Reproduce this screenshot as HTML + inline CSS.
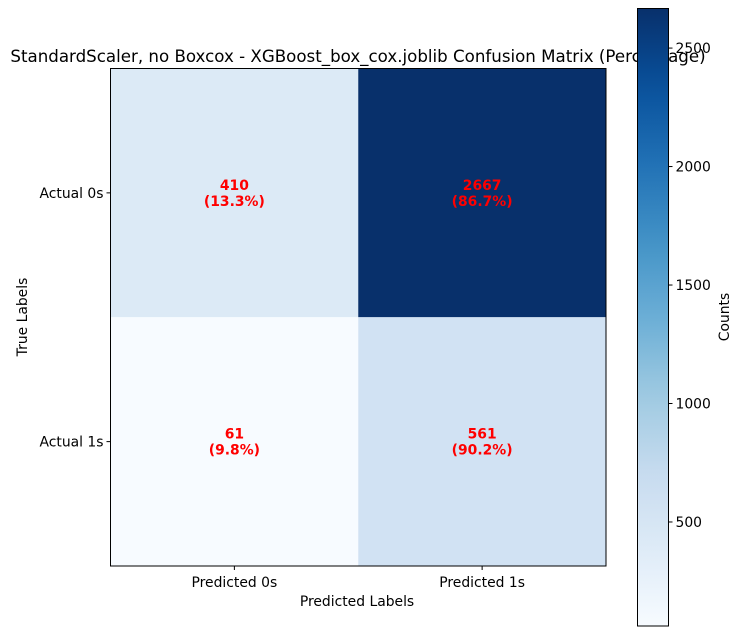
<!DOCTYPE html>
<html><head><meta charset="utf-8"><style>
body{margin:0;background:#fff;}
svg{display:block;font-family:"DejaVu Sans","Liberation Sans",sans-serif;}
</style></head><body>
<svg id="chart" width="742" height="636" viewBox="0 0 742 636">
<defs><linearGradient id="cbgrad" x1="0" y1="1" x2="0" y2="0"></linearGradient></defs>
<text x="358" y="62" font-size="16.67" text-anchor="middle" fill="#000">StandardScaler, no Boxcox - XGBoost_box_cox.joblib Confusion Matrix (Percentage)</text>
<g id="cells"></g>
<rect x="110.5" y="68.5" width="495.5" height="497.5" fill="none" stroke="#000" stroke-width="1"/>
<g id="ticks"></g>
<text x="357" y="606" font-size="13.9" text-anchor="middle">Predicted Labels</text>
<text x="0" y="0" font-size="13.9" text-anchor="middle" transform="translate(27,317) rotate(-90)">True Labels</text>
<g id="colorbar"></g>
</svg>
<script>
const rowLabels = ["Actual 0s", "Actual 1s"];
const colLabels = ["Predicted 0s", "Predicted 1s"];
const counts = [[410, 2667], [61, 561]];
const percents = ["13.3%", "86.7%", "9.8%", "90.2%"];
const cbTicks = [500, 1000, 1500, 2000, 2500];

const NS = "http://www.w3.org/2000/svg";
const blues = ["#f7fbff","#deebf7","#c6dbef","#9ecae1","#6baed6","#4292c6","#2171b5","#08519c","#08306b"];
function hex(c){return [1,3,5].map(i=>parseInt(c.substr(i,2),16));}
function cmap(t){t=Math.max(0,Math.min(1,t));const s=t*(blues.length-1);const i=Math.min(Math.floor(s),blues.length-2);const f=s-i;const a=hex(blues[i]),b=hex(blues[i+1]);return "rgb("+a.map((v,k)=>Math.round(v+(b[k]-v)*f)).join(",")+")";}
const flat = counts.flat();
const vmin = Math.min(...flat), vmax = Math.max(...flat);
const X0=110.5, X1=606, Y0=68.5, Y1=566;
const cw=(X1-X0)/colLabels.length, ch=(Y1-Y0)/rowLabels.length;
function xCenter(j){return X0+cw*(j+0.5);}
function yCenter(i){return Y0+ch*(i+0.5);}
function mk(tag,attrs,parent,txt){const e=document.createElementNS(NS,tag);for(const k in attrs)e.setAttribute(k,attrs[k]);if(txt!==undefined)e.textContent=txt;parent.appendChild(e);return e;}
const cells=document.getElementById("cells");
counts.forEach((row,i)=>row.forEach((v,j)=>{
  const r=mk("rect",{x:X0+cw*j,y:Y0+ch*i,width:cw,height:ch,fill:cmap((v-vmin)/(vmax-vmin))},cells);
  
  
  const t=mk("text",{x:xCenter(j),y:yCenter(i)-3,"font-size":"13.9","font-weight":"bold",fill:"#ff0000","text-anchor":"middle"},cells,String(v));
  
  
  const p=mk("text",{x:xCenter(j),y:yCenter(i)+13,"font-size":"13.9","font-weight":"bold",fill:"#ff0000","text-anchor":"middle"},cells,"("+percents[i*2+j]+")");
  
  
}));
const ticks=document.getElementById("ticks");
rowLabels.forEach((l,i)=>{
  mk("line",{x1:X0-4,x2:X0,y1:yCenter(i),y2:yCenter(i),stroke:"#000"},ticks);
  const t=mk("text",{x:X0-7,y:yCenter(i)+5,"font-size":"13.9","text-anchor":"end"},ticks,l);
  
  
});
colLabels.forEach((l,j)=>{
  mk("line",{x1:xCenter(j),x2:xCenter(j),y1:Y1,y2:Y1+4,stroke:"#000"},ticks);
  const t=mk("text",{x:xCenter(j),y:Y1+21,"font-size":"13.9","text-anchor":"middle"},ticks,l);
  
  
});
const CX0=637.5, CX1=668.5, CY0=8.5, CY1=626;
function cbY(v){return CY1-(v-vmin)/(vmax-vmin)*(CY1-CY0);}
const grad=document.getElementById("cbgrad");
for(let k=0;k<=20;k++){mk("stop",{offset:(k/20),"stop-color":cmap(k/20)},grad);}
const cb=document.getElementById("colorbar");
const cr=mk("rect",{x:CX0,y:CY0,width:CX1-CX0,height:CY1-CY0,fill:"url(#cbgrad)",stroke:"#000","stroke-width":"1"},cb);


cbTicks.forEach(v=>{
  const y=cbY(v);
  mk("line",{x1:CX1,x2:CX1+4,y1:y,y2:y,stroke:"#000"},cb);
  const t=mk("text",{x:CX1+7,y:y+5,"font-size":"13.9"},cb,String(v));
  
  
});
const cl=mk("text",{x:0,y:0,"font-size":"13.9","text-anchor":"middle",transform:"translate(729,317) rotate(-90)"},cb,"Counts");


</script>
</body></html>
